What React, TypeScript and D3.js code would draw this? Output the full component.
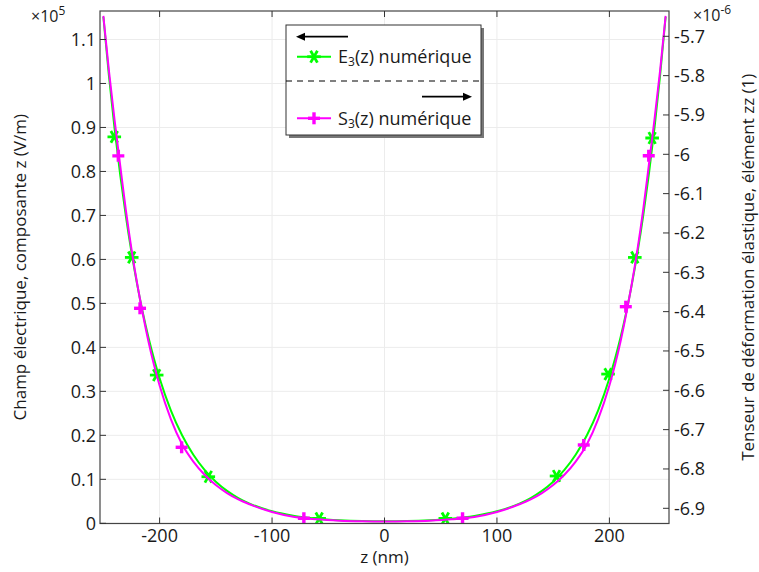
import React from "react";
import * as d3 from "d3";

// ---- data ----
const zCurve = [-250,-245,-240,-235,-230,-225,-220,-215,-210,-205,-200,-190,-180,-170,-160,-150,-140,-130,-120,-100,-80,-60,-40,-20,0,20,40,60,80,100,120,130,140,150,160,170,180,190,200,205,210,215,220,225,230,235,240,245,250];
const eCurve = [1.1513,1.0161,0.8966,0.7917,0.6983,0.6161,0.5439,0.4800,0.4235,0.3739,0.3299,0.2569,0.2001,0.1558,0.1214,0.0946,0.0737,0.0574,0.0448,0.0273,0.0167,0.0105,0.0069,0.0050,0.0044,0.0050,0.0069,0.0105,0.0167,0.0273,0.0448,0.0574,0.0737,0.0946,0.1214,0.1558,0.2001,0.2569,0.3299,0.3739,0.4235,0.4800,0.5439,0.6161,0.6983,0.7917,0.8966,1.0161,1.1513];
const sCurve = [-5.6483,-5.7891,-5.9140,-6.0287,-6.1420,-6.2412,-6.3279,-6.4047,-6.4746,-6.5351,-6.5878,-6.6732,-6.7373,-6.7813,-6.8148,-6.8410,-6.8613,-6.8774,-6.8898,-6.9092,-6.9219,-6.9281,-6.9314,-6.9330,-6.9336,-6.9330,-6.9314,-6.9281,-6.9219,-6.9092,-6.8898,-6.8774,-6.8613,-6.8410,-6.8148,-6.7813,-6.7373,-6.6732,-6.5878,-6.5351,-6.4746,-6.4047,-6.3279,-6.2412,-6.1420,-6.0287,-5.9140,-5.7891,-5.6483];

const eMarkZ = [-240.3,-224.8,-202.6,-156.7,-58.1,54.1,153.0,198.8,222.6,238.0];
const eMarkV = [0.8786,0.6045,0.337,0.1059,0.0110,0.0110,0.1075,0.3393,0.6045,0.876];
const sMarkZ = [-236.7,-217.4,-180.4,-71.7,69.4,177.2,214.6,235.0];
const sMarkV = [-6.004,-6.3915,-6.7449,-6.9254,-6.9254,-6.739,-6.3874,-6.0035];

const xTicks = [-200,-100,0,100,200];
const leftTicks = [0,0.1,0.2,0.3,0.4,0.5,0.6,0.7,0.8,0.9,1,1.1];
const rightTicks = [-6.9,-6.8,-6.7,-6.6,-6.5,-6.4,-6.3,-6.2,-6.1,-6,-5.9,-5.8,-5.7];

const W = 759, H = 572;
const L = 100, R = 669, T = 11, B = 523.5;
const FONT = "'Open Sans', 'Noto Sans', sans-serif";
const GREEN = "#00ff00", MAGENTA = "#ff00ff";

function Asterisk({ x, y, r = 6.8, color }: { x: number; y: number; r?: number; color: string }) {
  const a = [0, 60, 120].map((d) => (d * Math.PI) / 180);
  return (
    <g>
      {a.map((t, i) => (
        <line key={i} x1={x - r * Math.cos(t)} y1={y - r * Math.sin(t)} x2={x + r * Math.cos(t)} y2={y + r * Math.sin(t)} stroke={color} strokeWidth={2.8} />
      ))}
    </g>
  );
}

function Plus({ x, y, r = 6, color }: { x: number; y: number; r?: number; color: string }) {
  return (
    <g>
      <line x1={x - r} y1={y} x2={x + r} y2={y} stroke={color} strokeWidth={3.4} />
      <line x1={x} y1={y - r} x2={x} y2={y + r} stroke={color} strokeWidth={3.4} />
    </g>
  );
}

export default function App() {
  const x = d3.scaleLinear().domain([-253, 253]).range([L, R]);
  const yL = d3.scaleLinear().domain([0, 1.1648]).range([523.3, T]);
  const yR = d3.scaleLinear().domain([-6.93814, -5.63568]).range([523.3, T]);

  const eLine = d3.line<number>().x((_, i) => x(zCurve[i])).y((d) => yL(d)).curve(d3.curveMonotoneX);
  const sLine = d3.line<number>().x((_, i) => x(zCurve[i])).y((d) => yR(d)).curve(d3.curveMonotoneX);

  const fmt = (v: number) => String(+v.toFixed(1));

  return (
    <svg width={W} height={H} style={{ position: "absolute", left: 0, top: 0, background: "#fff" }} fontFamily={FONT}>
      <defs>
        <clipPath id="plot">
          <rect x={L} y={T - 6} width={R - L} height={B - T + 6} />
        </clipPath>
      </defs>
      <rect x={0} y={0} width={W} height={H} fill="#fff" />
      {/* grid */}
      {xTicks.map((t) => (
        <line key={"gx" + t} x1={x(t)} x2={x(t)} y1={T} y2={B} stroke="#ececec" strokeWidth={1} />
      ))}
      {leftTicks.map((t) => (
        <line key={"gy" + t} x1={L} x2={R} y1={yL(t)} y2={yL(t)} stroke="#ececec" strokeWidth={1} />
      ))}

      {/* curves */}
      <g clipPath="url(#plot)">
        <path d={eLine(eCurve) || ""} fill="none" stroke={GREEN} strokeWidth={2} />
        {eMarkZ.map((z, i) => (
          <Asterisk key={"em" + i} x={x(z)} y={yL(eMarkV[i])} color={GREEN} />
        ))}
        <path d={sLine(sCurve) || ""} fill="none" stroke={MAGENTA} strokeWidth={2} />
        {sMarkZ.map((z, i) => (
          <Plus key={"sm" + i} x={x(z)} y={yR(sMarkV[i])} color={MAGENTA} />
        ))}
      </g>

      {/* frame */}
      <rect x={L} y={T} width={R - L} height={B - T} fill="none" stroke="#444" strokeWidth={1.2} />

      {/* x ticks (bottom and top) */}
      {xTicks.map((t) => (
        <g key={"xt" + t}>
          <line x1={x(t)} x2={x(t)} y1={B} y2={B - 6} stroke="#333" />
          <line x1={x(t)} x2={x(t)} y1={T} y2={T + 6} stroke="#333" />
          <text x={x(t)} y={542} textAnchor="middle" fontSize={18} fill="#1a1a1a">{t}</text>
        </g>
      ))}
      <text x={x(0)} y={563} textAnchor="middle" fontSize={17} fill="#1a1a1a">z (nm)</text>

      {/* left ticks */}
      {leftTicks.map((t) => (
        <g key={"lt" + t}>
          <line x1={L} x2={L + 6} y1={yL(t)} y2={yL(t)} stroke="#333" />
          <text x={96} y={yL(t) + 6.5} textAnchor="end" fontSize={18} fill="#1a1a1a">{fmt(t)}</text>
        </g>
      ))}
      {/* right ticks */}
      {rightTicks.map((t) => (
        <g key={"rt" + t}>
          <line x1={R - 6} x2={R} y1={yR(t)} y2={yR(t)} stroke="#333" />
          <text x={674} y={yR(t) + 6.5} textAnchor="start" fontSize={18} fill="#1a1a1a">{fmt(t)}</text>
        </g>
      ))}

      {/* exponents */}
      <text x={31} y={22} fontSize={16} fill="#1a1a1a">×10<tspan dy={-7} fontSize={12}>5</tspan></text>
      <text x={693} y={21} fontSize={16} fill="#1a1a1a">×10<tspan dy={-7} fontSize={12}>-6</tspan></text>

      {/* axis titles */}
      <text transform={`translate(26,${(T + B) / 2}) rotate(-90)`} textAnchor="middle" fontSize={17} fill="#1a1a1a">
        Champ électrique, composante z (V/m)
      </text>
      <text transform={`translate(754,${(T + B) / 2}) rotate(-90)`} textAnchor="middle" fontSize={17} fill="#1a1a1a">
        Tenseur de déformation élastique, élément zz (1)
      </text>

      {/* legend */}
      <g>
        <rect x={289} y={28} width={195} height={110} fill="#777" />
        <rect x={286} y={25} width={195} height={110} fill="#fff" stroke="#333" strokeWidth={1} />
        {/* left arrow */}
        <line x1={303} x2={348} y1={36.7} y2={36.7} stroke="#000" strokeWidth={1.8} />
        <path d="M296,36.7 L305,32.7 L305,40.7 Z" fill="#000" />
        <line x1={297} x2={331} y1={56.7} y2={56.7} stroke={GREEN} strokeWidth={2} />
        <Asterisk x={314} y={56.7} color={GREEN} />
        <text x={338} y={63} fontSize={18} fill="#1a1a1a">E<tspan dy={3} fontSize={12}>3</tspan><tspan dy={-3}>(z) numérique</tspan></text>
        <line x1={286} x2={481} y1={81} y2={81} stroke="#000" strokeWidth={1} strokeDasharray="6,5" />
        {/* right arrow */}
        <line x1={422} x2={465} y1={96.7} y2={96.7} stroke="#000" strokeWidth={1.8} />
        <path d="M472,96.7 L463,92.7 L463,100.7 Z" fill="#000" />
        <line x1={297} x2={331} y1={118.3} y2={118.3} stroke={MAGENTA} strokeWidth={2} />
        <Plus x={314} y={118.3} color={MAGENTA} />
        <text x={338} y={124.5} fontSize={18} fill="#1a1a1a">S<tspan dy={3} fontSize={12}>3</tspan><tspan dy={-3}>(z) numérique</tspan></text>
      </g>
    </svg>
  );
}
